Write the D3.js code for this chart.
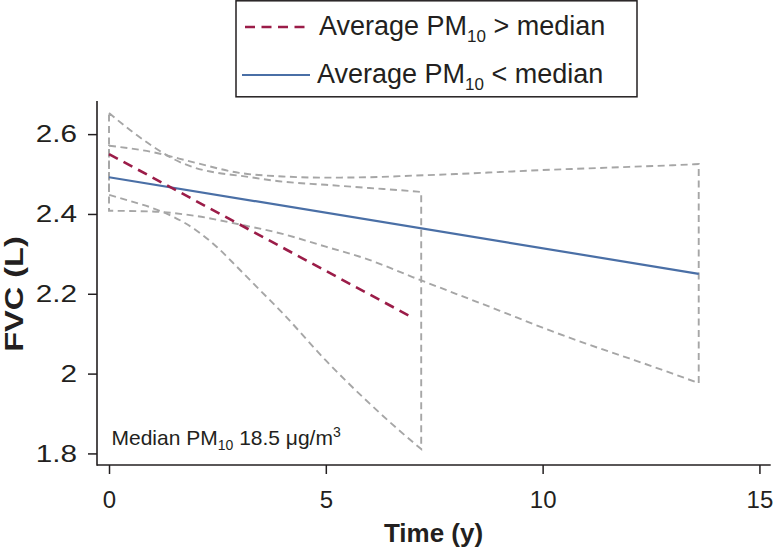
<!DOCTYPE html>
<html>
<head>
<meta charset="utf-8">
<script src="https://cdn.jsdelivr.net/npm/d3@7"></script>
<style>
  html, body { margin: 0; padding: 0; background: #fff; }
  svg { display: block; font-family: "Liberation Sans", Arial, Helvetica, sans-serif; }
</style>
</head>
<body>
<svg id="chart" width="775" height="553"></svg>
<script>
// ---- Data ----
const xTicks = [0, 5, 10, 15];
const yTicks = [1.8, 2.0, 2.2, 2.4, 2.6];

// Fitted lines (time in years, FVC in L)
const highLine = [[0, 2.550], [6.92, 2.145]];          // Average PM10 > median
const lowLine  = [[0, 2.492], [13.6, 2.250]];          // Average PM10 < median

// Confidence band, PM10 > median
const highUpper = [[0, 2.653], [0.5, 2.609], [1, 2.570], [1.5, 2.537], [2, 2.515], [2.5, 2.503],
                   [3, 2.496], [4, 2.481], [5, 2.473], [6, 2.465], [7, 2.457], [7.2, 2.455]];
const highLower = [[0, 2.448], [0.5, 2.432], [1, 2.415], [1.5, 2.392], [2, 2.360], [2.5, 2.316],
                   [3, 2.262], [3.5, 2.207], [4, 2.152], [5, 2.033], [6, 1.926], [7, 1.829], [7.2, 1.811]];

// Confidence band, PM10 < median
const lowUpper = [[0, 2.571], [1, 2.555], [2, 2.528], [3, 2.503], [4, 2.494], [5, 2.491], [6, 2.492],
                  [7, 2.496], [8, 2.500], [9, 2.505], [10, 2.510], [11, 2.514], [12, 2.518], [13, 2.522], [13.6, 2.525]];
const lowLower = [[0, 2.408], [1, 2.406], [2, 2.395], [3, 2.374], [4, 2.350], [5, 2.318], [6, 2.285],
                  [7, 2.242], [8, 2.200], [9, 2.158], [10, 2.115], [11, 2.075], [12, 2.038], [13, 2.000], [13.6, 1.976]];

const legendLabels = ["Average PM", "Average PM"];
const legendTails = [" > median", " < median"];
const colors = { high: "#9b1c48", low: "#4a6fa6", band: "#a6a6a6", axis: "#231f20" };

// ---- Chart ----
const svg = d3.select("#chart");
const x = d3.scaleLinear().domain([-0.277, 15.26]).range([97, 770.7]);
const y = d3.scaleLinear().domain([1.771, 2.683]).range([465, 101]);

const line = d3.line().x(d => x(d[0])).y(d => y(d[1]));
const curve = d3.line().x(d => x(d[0])).y(d => y(d[1])).curve(d3.curveMonotoneX);

function bandPath(upper, lower) {
  const up = curve(upper);
  const lowRev = lower.slice().reverse();
  const lo = curve(lowRev);
  return up + "L" + lo.slice(1) + "Z";
}

// Bands
[[highUpper, highLower], [lowUpper, lowLower]].forEach(([u, l]) => {
  svg.append("path")
    .attr("d", bandPath(u, l))
    .attr("fill", "none")
    .attr("stroke", colors.band)
    .attr("stroke-width", 1.9)
    .attr("stroke-dasharray", "7,4.5");
});

// Lines
svg.append("path").attr("d", line(lowLine)).attr("fill", "none")
  .attr("stroke", colors.low).attr("stroke-width", 2.2);
svg.append("path").attr("d", line(highLine)).attr("fill", "none")
  .attr("stroke", colors.high).attr("stroke-width", 2.6).attr("stroke-dasharray", "10,6.5");

// Axes
const xAxis = d3.axisBottom(x).tickValues(xTicks).tickSize(9).tickPadding(17).tickFormat(d3.format("~g"));
const yAxis = d3.axisLeft(y).tickValues(yTicks).tickSize(9).tickPadding(11).tickFormat(d3.format("~g"));

const gx = svg.append("g").attr("transform", "translate(0,465)").call(xAxis);
const gy = svg.append("g").attr("transform", "translate(97,0)").call(yAxis);
[gx, gy].forEach(g => {
  g.select(".domain").remove();
  g.selectAll(".tick line").attr("stroke", colors.axis).attr("stroke-width", 1.5);
  g.selectAll(".tick text").attr("fill", colors.axis).attr("font-size", 24)
    .attr("font-family", "'Liberation Sans', Arial, sans-serif");
});
// y tick labels are horizontally widened in the reference
gy.selectAll(".tick text").attr("x", 0).attr("transform", "translate(-20,0) scale(1.24,1)");

svg.append("line").attr("x1", x.range()[0]).attr("x2", x.range()[1]).attr("y1", 465).attr("y2", 465)
  .attr("stroke", colors.axis).attr("stroke-width", 1.6);
svg.append("line").attr("x1", 97).attr("x2", 97).attr("y1", y.range()[1]).attr("y2", 465.8)
  .attr("stroke", colors.axis).attr("stroke-width", 1.6);

// Axis titles
svg.append("text").attr("x", 433.5).attr("y", 542).attr("text-anchor", "middle")
  .attr("font-size", 26).attr("font-weight", "bold").attr("fill", colors.axis).text("Time (y)");
svg.append("text").attr("transform", "translate(23,294) rotate(-90) scale(1.25,1)").attr("text-anchor", "middle")
  .attr("font-size", 26).attr("font-weight", "bold").attr("fill", colors.axis).text("FVC (L)");

// Annotation
const ann = svg.append("text").attr("x", 111.5).attr("y", 445).attr("font-size", 21).attr("fill", colors.axis);
ann.append("tspan").text("Median PM");
ann.append("tspan").attr("font-size", 14).attr("dy", 5).text("10");
ann.append("tspan").attr("dy", -5).text(" 18.5 \u03bcg/m");
ann.append("tspan").attr("font-size", 14).attr("dy", -8).text("3");

// Legend
svg.append("rect").attr("x", 236).attr("y", 0.8).attr("width", 401).attr("height", 96)
  .attr("fill", "#fff").attr("stroke", colors.axis).attr("stroke-width", 1.5);
const legendRows = [
  { color: colors.high, dash: "10,6.5", width: 2.6, lx1: 245, lx2: 308, ly: 27, tx: 319, ty: 35 },
  { color: colors.low, dash: null, width: 2.2, lx1: 242, lx2: 310, ly: 75, tx: 317, ty: 83 }
];
legendRows.forEach((r, i) => {
  svg.append("line").attr("x1", r.lx1).attr("x2", r.lx2).attr("y1", r.ly).attr("y2", r.ly)
    .attr("stroke", r.color).attr("stroke-width", r.width).attr("stroke-dasharray", r.dash);
  const t = svg.append("text").attr("x", r.tx).attr("y", r.ty).attr("font-size", 27).attr("fill", colors.axis);
  t.append("tspan").text(legendLabels[i]);
  t.append("tspan").attr("font-size", 17).attr("dy", 7).text("10");
  t.append("tspan").attr("dy", -7).text(legendTails[i]);
});
</script>
</body>
</html>
